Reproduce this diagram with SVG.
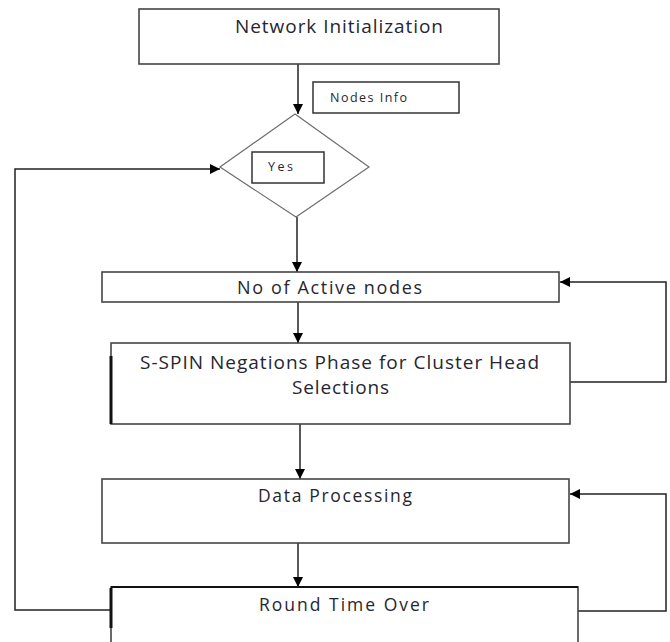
<svg xmlns="http://www.w3.org/2000/svg" width="670" height="642" viewBox="0 0 670 642">
  <defs>
    <marker id="arr" markerWidth="10" markerHeight="10" refX="10" refY="5" orient="auto" markerUnits="userSpaceOnUse">
      <path d="M0,0 L10,5 L0,10 Z" fill="#000"/>
    </marker>
    <style>
      .box { fill: #fff; stroke: #454545; stroke-width: 1.6; }
      .small { fill: #fff; stroke: #333; stroke-width: 1.5; }
      .dia { fill: #fff; stroke: #6e6e6e; stroke-width: 1.2; }
      .lbl { font-family: "Open Sans", "Liberation Sans", sans-serif; fill: #262630; }
      .conn { fill: none; stroke: #222; stroke-width: 1.5; }
      .thick { stroke: #111; stroke-width: 3; fill: none; }
    </style>
  </defs>
  <rect width="670" height="642" fill="#fff"/>

  <g id="connectors">
    <line class="conn" x1="298" y1="64" x2="298" y2="114" marker-end="url(#arr)"/>
    <line class="conn" x1="297" y1="217" x2="297" y2="272" marker-end="url(#arr)"/>
    <line class="conn" x1="298" y1="302" x2="298" y2="343" marker-end="url(#arr)"/>
    <line class="conn" x1="300" y1="424" x2="300" y2="479" marker-end="url(#arr)"/>
    <line class="conn" x1="298" y1="543" x2="298" y2="587" marker-end="url(#arr)"/>
    <polyline class="conn" points="570,382 666,382 666,282 560,282" marker-end="url(#arr)"/>
    <polyline class="conn" points="578,611 666,611 666,494 570,494" marker-end="url(#arr)"/>
    <polyline class="conn" points="111,610 15,610 15,169 220,169" marker-end="url(#arr)"/>
  </g>

  <g id="network-init">
    <rect class="box" x="139" y="9" width="360" height="55"/>
    <text class="lbl" x="235" y="33" font-size="19" textLength="208" lengthAdjust="spacing">Network Initialization</text>
  </g>

  <g id="nodes-info">
    <rect class="small" x="313" y="82" width="146" height="31"/>
    <text class="lbl" x="330" y="102" font-size="12.5" textLength="77" lengthAdjust="spacing">Nodes Info</text>
  </g>

  <g id="decision">
    <polygon class="dia" points="295,114 369,167 296,217 220,167"/>
    <rect class="small" x="252" y="152" width="72" height="31"/>
    <text class="lbl" x="268" y="171" font-size="12.5" textLength="25" lengthAdjust="spacing">Yes</text>
  </g>

  <g id="active-nodes">
    <rect class="box" x="102" y="272" width="457" height="30"/>
    <text class="lbl" x="237" y="294" font-size="18" textLength="185" lengthAdjust="spacing">No of Active nodes</text>
  </g>

  <g id="sspin">
    <rect class="box" x="111" y="343" width="459" height="81"/>
    <line class="thick" x1="111" y1="356" x2="111" y2="424"/>
    <text class="lbl" x="140" y="369" font-size="19" textLength="399" lengthAdjust="spacing">S-SPIN Negations Phase for Cluster Head</text>
    <text class="lbl" x="292" y="394" font-size="19" textLength="97" lengthAdjust="spacing">Selections</text>
  </g>

  <g id="data-processing">
    <rect class="box" x="102" y="479" width="467" height="64"/>
    <text class="lbl" x="258" y="502" font-size="17.5" textLength="154" lengthAdjust="spacing">Data Processing</text>
  </g>

  <g id="round-time">
    <rect class="box" x="111" y="587" width="467" height="70"/>
    <line x1="111" y1="587" x2="578" y2="587" stroke="#111" stroke-width="2.2"/>
    <line class="thick" x1="111" y1="588" x2="111" y2="628"/>
    <text class="lbl" x="259" y="611" font-size="17.5" textLength="170" lengthAdjust="spacing">Round Time Over</text>
  </g>
</svg>
